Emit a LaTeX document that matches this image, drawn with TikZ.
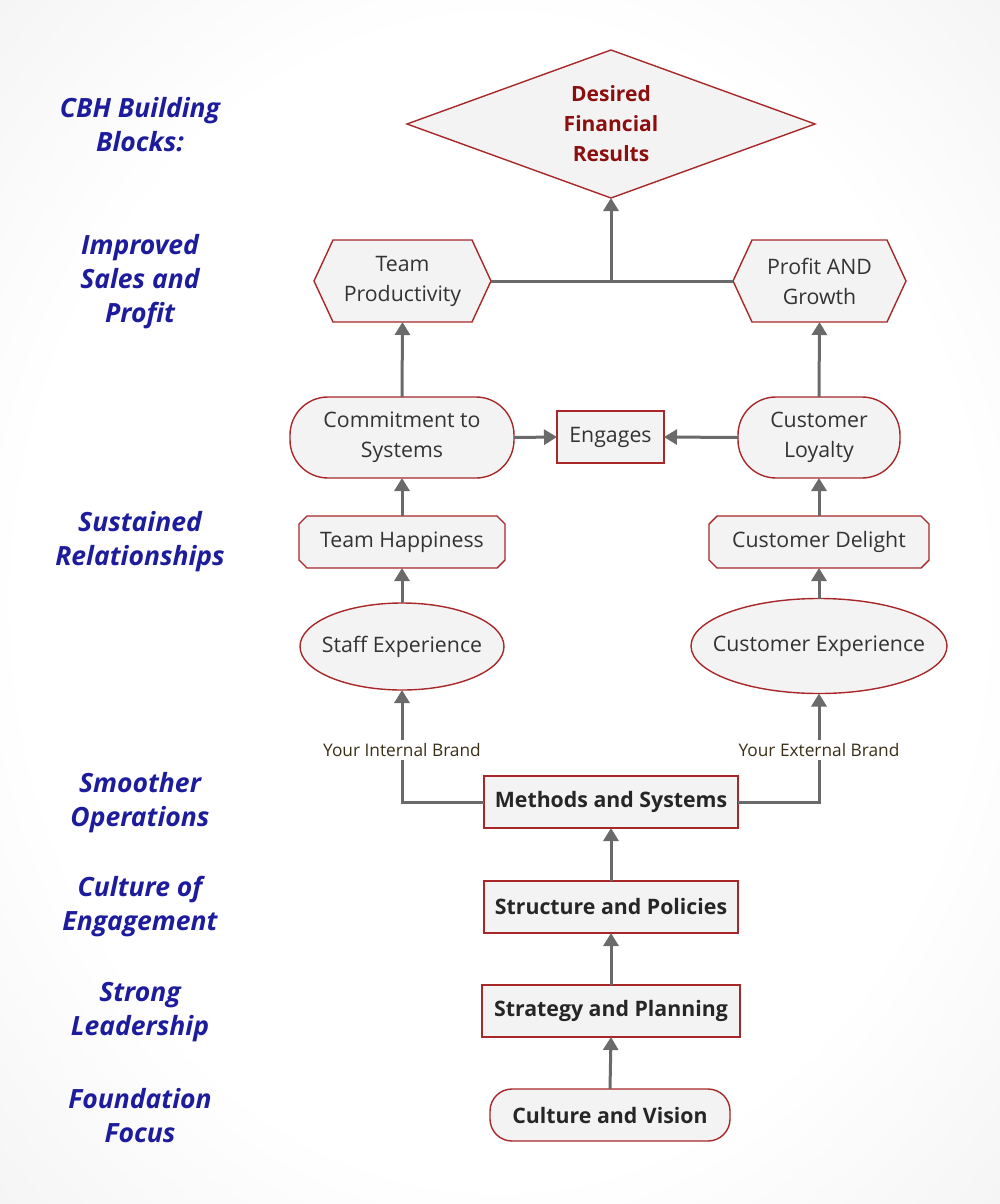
\documentclass[tikz,border=0pt]{standalone}
\usepackage{fontspec}
\setmainfont{Open Sans}
\usetikzlibrary{arrows.meta,shapes.geometric}
\definecolor{bord}{HTML}{A8282A}
\definecolor{boxfill}{HTML}{F4F3F3}
\definecolor{arr}{HTML}{6A6A6A}
\definecolor{navyc}{HTML}{1C1C9C}
\definecolor{darkredc}{HTML}{8C0F0F}
\definecolor{txtc}{HTML}{333333}
\definecolor{brandc}{HTML}{3A3018}
\pgfdeclarelayer{back}
\pgfdeclarelayer{bg}
\pgfsetlayers{back,bg,main}
\pgfdeclareradialshading{bgshade}{\pgfpoint{0bp}{0bp}}{color(0bp)=(white); color(24bp)=(white); color(50bp)=(black!9)}
\begin{document}
\begin{tikzpicture}[x=1pt,y=-1pt,
  base/.style={text=txtc, font=\fontsize{21.3}{30}\selectfont, align=center, inner sep=0pt, outer sep=0pt},
  boxed/.style={base, draw=bord, fill=boxfill, line width=1.4pt},
  plain/.style={base, draw=none, fill=none},
  shapeline/.style={draw=bord, fill=boxfill, line width=1.4pt},
  boldbox/.style={boxed, font=\fontsize{21.3}{30}\selectfont\bfseries, text=black!85},
  conn/.style={draw=arr, line width=3pt, -{Triangle[length=13pt,width=15pt]}},
  plainline/.style={draw=arr, line width=3pt},
  lefttxt/.style={font=\fontsize{26.5}{34}\selectfont\bfseries\itshape, text=navyc, align=center, inner sep=0pt},
  brandtxt/.style={font=\fontsize{17.3}{20}\selectfont, text=brandc, inner sep=3pt}
]
\begin{pgfonlayer}{back}
\shade[shading=bgshade] (0,0) rectangle (1000,1204);
\end{pgfonlayer}
\useasboundingbox (0,0) rectangle (1000,1204);

% left labels
\node[lefttxt] (l1) at (140,125) {CBH Building\\Blocks:};
\node[lefttxt] (l2) at (140,282) {Improved\\Sales and\\Profit};
\node[lefttxt] (l3) at (140,542) {Sustained\\Relationships};
\node[lefttxt] (l4) at (140,803) {Smoother\\Operations};
\node[lefttxt] (l5) at (140,907) {Culture of\\Engagement};
\node[lefttxt] (l6) at (140,1012) {Strong\\Leadership};
\node[lefttxt] (l7) at (140,1116) {Foundation\\Focus};

% diamond
\node[plain, minimum width=408, minimum height=148, font=\fontsize{21}{30}\selectfont\bfseries, text=darkredc] (dfr) at (611,124) {Desired\\Financial\\Results};
% hexagons
\node[plain, minimum width=177, minimum height=82] (tp) at (402.5,281) {Team\\Productivity};
\node[plain, minimum width=173, minimum height=82] (pg) at (819.5,281) {Profit AND\\Growth};
% rounded
\node[boxed, rounded corners=38, minimum width=224, minimum height=81] (cs) at (402,437.5) {Commitment to\\Systems};
\node[boxed, minimum width=107, minimum height=52] (eng) at (610.5,437) {Engages};
\node[boxed, rounded corners=38, minimum width=162, minimum height=81] (cl) at (819,437.5) {Customer\\Loyalty};
% chamfered
\node[plain, minimum width=206, minimum height=52] (th) at (402,542) {Team Happiness};
\node[plain, minimum width=220, minimum height=52] (cd) at (819,542) {Customer Delight};
% ellipses
\node[boxed, ellipse, minimum width=204, minimum height=87] (se) at (402,646.5) {\makebox[0pt]{Staff Experience}};
\node[boxed, ellipse, minimum width=256, minimum height=95] (ce) at (819,646) {\makebox[0pt]{Customer Experience}};
% brand labels
\node[brandtxt] (ib) at (402,750) {Your Internal Brand};
\node[brandtxt] (eb) at (819,750) {Your External Brand};
% bottom stack
\node[boldbox, minimum width=254, minimum height=52] (ms) at (611,802) {Methods and Systems};
\node[boldbox, minimum width=254, minimum height=52] (sp) at (611,907) {Structure and Policies};
\node[boldbox, minimum width=258, minimum height=52] (stp) at (611,1011) {Strategy and Planning};
\node[boldbox, rounded corners=22, minimum width=240, minimum height=52] (cv) at (610,1115) {Culture and Vision};

\begin{pgfonlayer}{bg}
\path[shapeline] (dfr.west) -- (dfr.north) -- (dfr.east) -- (dfr.south) -- cycle;
\path[shapeline] (tp.west) -- ([xshift=19]tp.north west) -- ([xshift=-19]tp.north east) -- (tp.east) -- ([xshift=-19]tp.south east) -- ([xshift=19]tp.south west) -- cycle;
\path[shapeline] (pg.west) -- ([xshift=19]pg.north west) -- ([xshift=-19]pg.north east) -- (pg.east) -- ([xshift=-19]pg.south east) -- ([xshift=19]pg.south west) -- cycle;
\path[shapeline] ([yshift=-8]th.north west) -- ([xshift=8]th.north west) -- ([xshift=-8]th.north east) -- ([yshift=-8]th.north east) -- ([yshift=8]th.south east) -- ([xshift=-8]th.south east) -- ([xshift=8]th.south west) -- ([yshift=8]th.south west) -- cycle;
\path[shapeline] ([yshift=-8]cd.north west) -- ([xshift=8]cd.north west) -- ([xshift=-8]cd.north east) -- ([yshift=-8]cd.north east) -- ([yshift=8]cd.south east) -- ([xshift=-8]cd.south east) -- ([xshift=8]cd.south west) -- ([yshift=8]cd.south west) -- cycle;
\end{pgfonlayer}

% connectors
\coordinate (j) at (dfr.south |- tp.east);
\draw[plainline] (tp.east) -- (pg.west);
\draw[conn] (j) -- (dfr.south);
\draw[conn] (cs.north) -- (tp.south);
\draw[conn] (cl.north) -- (pg.south);
\draw[conn] (cs.east) -- (eng.west);
\draw[conn] (cl.west) -- (eng.east);
\draw[conn] (th.north) -- (cs.south);
\draw[conn] (cd.north) -- (cl.south);
\draw[conn] (se.north) -- (th.south);
\draw[conn] (ce.north) -- (cd.south);
\draw[conn] (ib.north) -- (se.south);
\draw[conn] (eb.north) -- (ce.south);
\draw[plainline] (ib.south) |- (ms.west);
\draw[plainline] (eb.south) |- (ms.east);
\draw[conn] (sp.north) -- (ms.south);
\draw[conn] (stp.north) -- (sp.south);
\draw[conn] (cv.north) -- (stp.south);
\end{tikzpicture}
\end{document}
